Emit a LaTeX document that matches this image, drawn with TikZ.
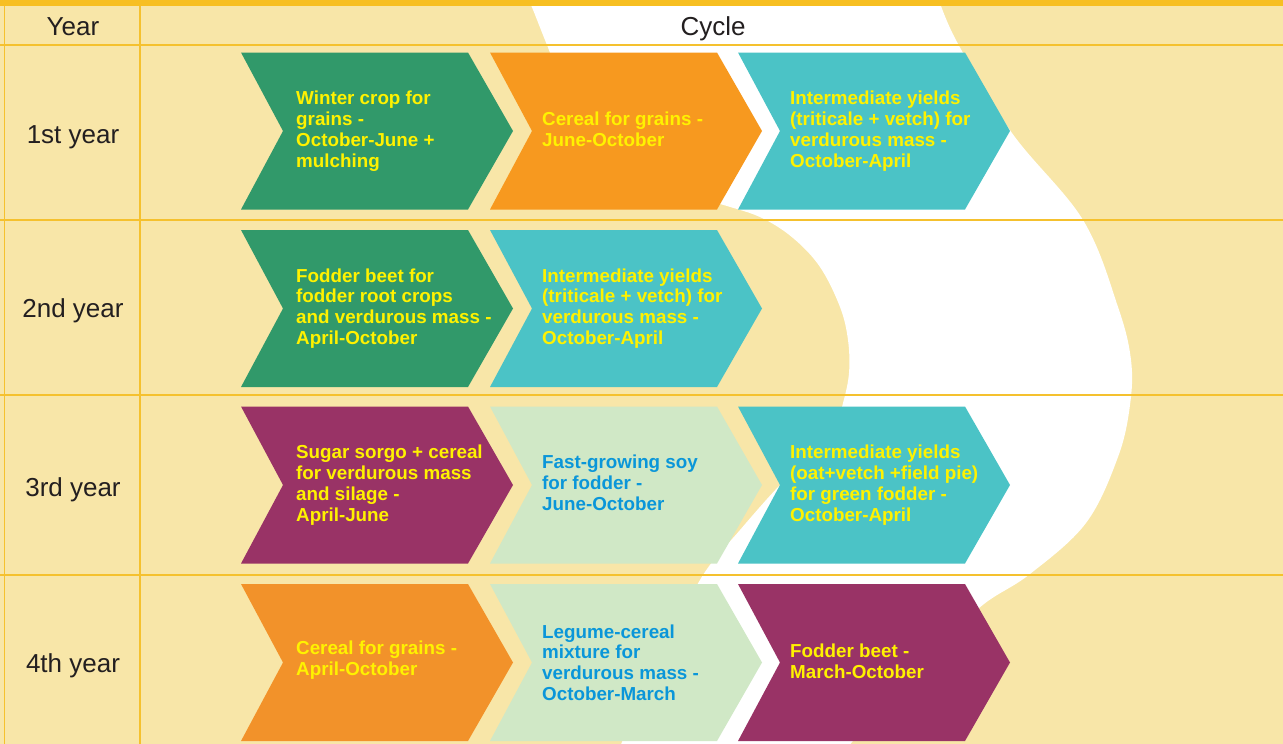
\documentclass[tikz,border=0pt]{standalone}
\usepackage{fontspec}
\setmainfont{Liberation Sans}
\definecolor{paper}{HTML}{F8E6A8}
\definecolor{rule}{HTML}{F5C12E}
\definecolor{topbar}{HTML}{F7BF22}
\definecolor{headc}{HTML}{231F20}
\definecolor{cgreen}{HTML}{31996A}
\definecolor{corange}{HTML}{F7991F}
\definecolor{corangeb}{HTML}{F2922A}
\definecolor{cteal}{HTML}{4BC3C6}
\definecolor{cpurple}{HTML}{993366}
\definecolor{cpale}{HTML}{D0E8C6}
\definecolor{tyellow}{HTML}{FFF200}
\definecolor{tblue}{HTML}{0A96D9}

% chevron: left x, centre y, fill colour
\newcommand\chevshape[3]{%
  \fill[#3] (#1,#2) ++(0,-78.5) -- ++(227,0) -- ++(45,78.5) -- ++(-45,78.5)
    -- ++(-227,0) -- ++(42,-78.5) -- cycle;}

\begin{document}
\begin{tikzpicture}[x=1pt,y=-1pt,
  gridline/.style={draw=rule, line width=1.3pt},
  headtext/.style={anchor=base, inner sep=0pt, text=headc,
    font=\fontsize{26}{30}\selectfont},
  chevtext/.style={anchor=west, align=left, inner sep=0pt,
    font=\bfseries\fontsize{18.8}{20.8}\selectfont},
  ontone/.style={chevtext, text=tyellow},
  onpale/.style={chevtext, text=tblue},
]
\useasboundingbox (0,0) rectangle (1283,744);
\fill[paper] (0,0) rectangle (1283,744);

% white S-shaped band behind the cycle column
\fill[white] plot[smooth, tension=0.6] coordinates {(526,-3) (531,5) (547,45)
    (572,105) (615,155) (672,190) (727,206) (762,218) (793,238) (820,267)
    (840,307) (848,340) (849,373) (843,403) (834,430) (810,458) (780,485)
    (740,530) (703,575) (670,640) (640,700) (620,747)}
  -- (848,747)
  -- plot[smooth, tension=0.6] coordinates {(848,747) (890,697) (940,645)
    (984,604) (1030,574) (1086,523) (1118,457) (1130,405) (1131,360)
    (1118,307) (1083,220) (1012,133) (957,42) (938,-3)}
  -- cycle;

% table rules
\draw[gridline] (0,45) -- (1283,45);
\draw[gridline] (0,220) -- (1283,220);
\draw[gridline] (0,395) -- (1283,395);
\draw[gridline] (0,575) -- (1283,575);
\draw[gridline] (4.7,5) -- (4.7,744);
\draw[gridline] (140,5) -- (140,744);
\fill[topbar] (0,0) rectangle (1283,5.5);

% header
\node[headtext] (hyear) at (73,35) {Year};
\node[headtext] (hcycle) at (713,35) {Cycle};

% year labels
\node[headtext] (y1) at (73,143) {1st year};
\node[headtext] (y2) at (73,317) {2nd year};
\node[headtext] (y3) at (73,496) {3rd year};
\node[headtext] (y4) at (73,672) {4th year};

% 1st year
\chevshape{241}{131}{cgreen}
\chevshape{490}{131}{corange}
\chevshape{738}{131}{cteal}
\node[ontone] (c11) at (296,131) {Winter crop for\\grains -\\October-June +\\mulching};
\node[ontone] (c12) at (542,129) {Cereal for grains -\\June-October};
\node[ontone] (c13) at (790,131) {Intermediate yields\\(triticale + vetch) for\\verdurous mass -\\October-April};

% 2nd year
\chevshape{241}{308.5}{cgreen}
\chevshape{490}{308.5}{cteal}
\node[ontone] (c21) at (296,308.5) {Fodder beet for\\fodder root crops\\and verdurous mass -\\April-October};
\node[ontone] (c22) at (542,308.5) {Intermediate yields\\(triticale + vetch) for\\verdurous mass -\\October-April};

% 3rd year
\chevshape{241}{485}{cpurple}
\chevshape{490}{485}{cpale}
\chevshape{738}{485}{cteal}
\node[ontone] (c31) at (296,485) {Sugar sorgo + cereal\\for verdurous mass\\and silage -\\April-June};
\node[onpale] (c32) at (542,483) {Fast-growing soy\\for fodder -\\June-October};
\node[ontone] (c33) at (790,485) {Intermediate yields\\(oat+vetch +field pie)\\for green fodder -\\October-April};

% 4th year
\chevshape{241}{662.5}{corangeb}
\chevshape{490}{662.5}{cpale}
\chevshape{738}{662.5}{cpurple}
\node[ontone] (c41) at (296,660) {Cereal for grains -\\April-October};
\node[onpale] (c42) at (542,662.5) {Legume-cereal\\mixture for\\verdurous mass -\\October-March};
\node[ontone] (c43) at (790,661) {Fodder beet -\\March-October};
\end{tikzpicture}
\end{document}
